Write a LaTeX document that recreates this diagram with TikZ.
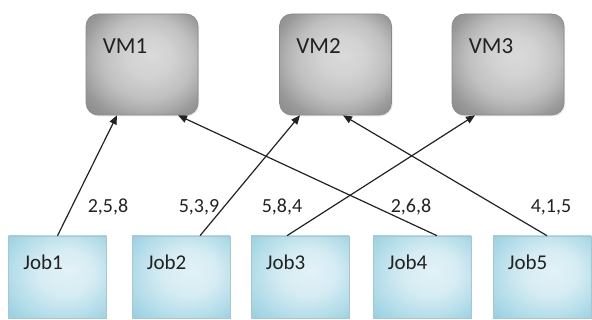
\documentclass[tikz,border=0pt]{standalone}
\usepackage{fontspec}
\setmainfont{Carlito}
\usetikzlibrary{arrows.meta,shadows}

\definecolor{jobedge}{HTML}{A9C6D0}
\definecolor{vmedge}{HTML}{8A8A8A}
\definecolor{ink}{HTML}{222222}

% soft metallic grey for the machines
\pgfdeclareradialshading{vmshade}{\pgfpoint{4bp}{5bp}}{%
  color(0bp)=(rgb,255:red,218;green,218;blue,218);
  color(10bp)=(rgb,255:red,210;green,210;blue,210);
  color(20bp)=(rgb,255:red,192;green,192;blue,192);
  color(25bp)=(rgb,255:red,174;green,174;blue,174);
  color(30bp)=(rgb,255:red,153;green,153;blue,153);
  color(36bp)=(rgb,255:red,138;green,138;blue,138);
  color(50bp)=(rgb,255:red,138;green,138;blue,138)}
% pale cyan for the jobs
\pgfdeclareradialshading{jobshade}{\pgfpoint{6bp}{4bp}}{%
  color(0bp)=(rgb,255:red,226;green,242;blue,247);
  color(14bp)=(rgb,255:red,214;green,236;blue,243);
  color(26bp)=(rgb,255:red,182;green,222;blue,234);
  color(36bp)=(rgb,255:red,154;green,208;blue,225);
  color(50bp)=(rgb,255:red,154;green,208;blue,225)}

\begin{document}
\begin{tikzpicture}[x=1pt,y=-1pt,
  vmbox/.style={draw=vmedge, line width=0.6pt, rounded corners=12pt,
    minimum width=112pt, minimum height=101pt, shading=vmshade,
    drop shadow={opacity=0.2, shadow xshift=1pt, shadow yshift=-1.5pt}},
  vmtext/.style={anchor=base west, xshift=17pt, yshift=-40pt, inner sep=0pt,
    text=ink, font=\fontsize{23}{26}\selectfont},
  jobbox/.style={draw=jobedge, line width=0.6pt,
    minimum width=98pt, minimum height=82pt, shading=jobshade},
  jobtext/.style={anchor=base west, xshift=15pt, yshift=-34pt, inner sep=0pt,
    text=ink, font=\fontsize{21}{24}\selectfont},
  num/.style={anchor=base, inner sep=0pt, text=ink, font=\fontsize{20}{23}\selectfont},
  conn/.style={-{Triangle[length=9pt,width=7.5pt]}, line width=1.2pt, ink}]
\useasboundingbox (0,0) rectangle (592,320);

% virtual machines
\node[vmbox, label={[vmtext]north west:VM1}] (vm1) at (142,64.5) {};
\node[vmbox, label={[vmtext]north west:VM2}] (vm2) at (335.5,64.5) {};
\node[vmbox, label={[vmtext]north west:VM3}] (vm3) at (508,64.5) {};

% jobs
\node[jobbox, label={[jobtext]north west:Job1}] (job1) at (57.5,277) {};
\node[jobbox, label={[jobtext]north west:Job2}] (job2) at (181,277) {};
\node[jobbox, label={[jobtext]north west:Job3}] (job3) at (300,277) {};
\node[jobbox, label={[jobtext]north west:Job4}] (job4) at (422,277) {};
\node[jobbox, label={[jobtext]north west:Job5}] (job5) at (542,277) {};

% assignments
\draw[conn] (job1.north) -- ([xshift=-25pt]vm1.south);
\draw[conn] ([xshift=19pt]job2.north) -- ([xshift=-35.5pt]vm2.south);
\draw[conn] ([xshift=-13pt]job3.north) -- ([xshift=-33pt]vm3.south);
\draw[conn] ([xshift=15pt]job4.north) -- ([xshift=36pt]vm1.south);
\draw[conn] ([xshift=5pt]job5.north) -- ([xshift=7.5pt]vm2.south);

% job parameters
\node[num] (p1) at (108,213) {2,5,8};
\node[num] (p2) at (199,213) {5,3,9};
\node[num] (p3) at (282,213) {5,8,4};
\node[num] (p4) at (411,213) {2,6,8};
\node[num] (p5) at (551,213) {4,1,5};
\end{tikzpicture}
\end{document}
